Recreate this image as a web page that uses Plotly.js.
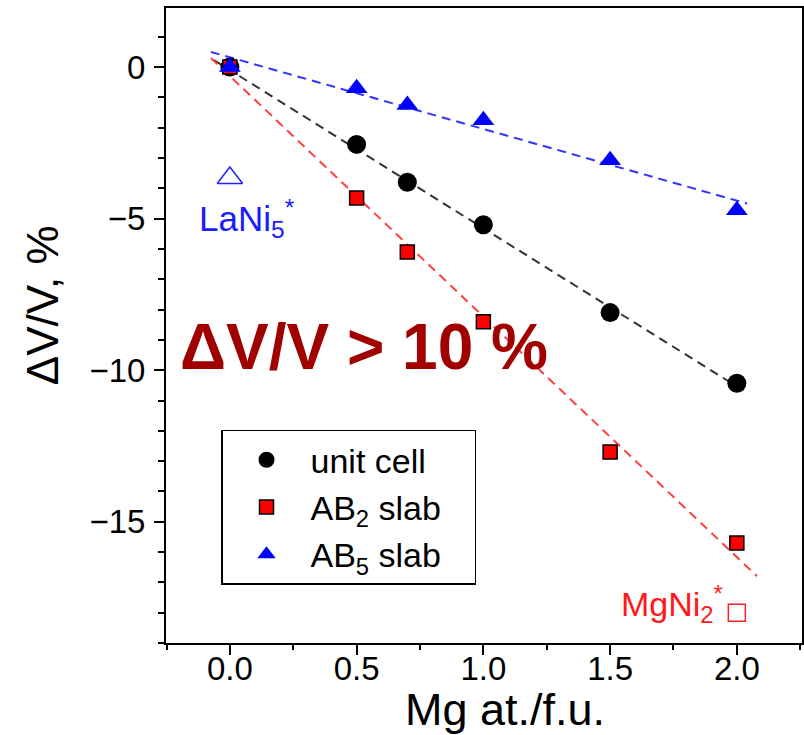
<!DOCTYPE html>
<html>
<head>
<meta charset="utf-8">
<script src="https://cdn.plot.ly/plotly-3.0.1.min.js"></script>
<style>html,body{margin:0;padding:0;background:#fff;}#chart{width:804px;height:735px;}</style>
</head>
<body>
<div id="chart"></div>
<script>
// Mg content (at./f.u.)
const mgContent = [0, 0.5, 0.7, 1.0, 1.5, 2.0];
// Relative volume change, %
const unitCell = [0, -2.55, -3.8, -5.2, -8.1, -10.43];
const ab2Slab  = [0, -4.32, -6.1, -8.4, -12.7, -15.7];
const ab5Slab  = [0, -0.7, -1.25, -1.75, -3.07, -4.72];
// Reference compounds
const laNi5X = [0];
const laNi5Y = [-3.66];
const mgNi2X = [2.0];
const mgNi2Y = [-18.0];
// Dashed linear fit guides (endpoints)
const fitUnitX = [-0.063, 2.043];
const fitUnitY = [0.23, -10.76];
const fitAB2X  = [-0.075, 2.08];
const fitAB2Y  = [0.3, -16.8];
const fitAB5X  = [-0.075, 2.04];
const fitAB5Y  = [0.5, -4.5];
// Labels
const legendNames = ['unit cell', 'AB<sub>2</sub> slab\u00a0\u00a0\u00a0', 'AB<sub>5</sub> slab'];
const xTitle = 'Mg at./f.u.';
const yTitle = '\u0394V/V, %';
const bigNote = '\u0394V/V > 10 %';

const FONT = 'Liberation Sans, Arial, sans-serif';
const XRANGE = [-0.252, 2.257];

const traces = [
  {x: fitUnitX, y: fitUnitY, mode: 'lines', line: {color: '#333333', width: 2, dash: '9px,6px'}, showlegend: false, hoverinfo: 'skip'},
  {x: fitAB2X, y: fitAB2Y, mode: 'lines', line: {color: '#ff4040', width: 2, dash: '9px,6px'}, showlegend: false, hoverinfo: 'skip'},
  {x: fitAB5X, y: fitAB5Y, mode: 'lines', line: {color: '#3333ff', width: 2, dash: '9px,6px'}, showlegend: false, hoverinfo: 'skip'},
  {x: mgContent, y: unitCell, mode: 'markers', name: legendNames[0],
   marker: {symbol: 'circle', size: 19, color: '#000000'}},
  {x: mgContent, y: ab2Slab, mode: 'markers', name: legendNames[1],
   marker: {symbol: 'square', size: 14, color: '#ff0000', line: {color: '#000000', width: 1.5}}},
  {x: mgContent, y: ab5Slab, mode: 'markers', name: legendNames[2],
   marker: {symbol: 'triangle-up', size: 19, color: '#0000ff'}},
  {x: laNi5X, y: laNi5Y, mode: 'markers', showlegend: false, xaxis: 'x2',
   marker: {symbol: 'triangle-up-open', size: 22, color: '#2222ff', line: {width: 1.5}}},
  {x: mgNi2X, y: mgNi2Y, mode: 'markers', showlegend: false, xaxis: 'x2',
   marker: {symbol: 'square-open', size: 17, color: '#ff2020', line: {width: 1.5}}}
];

const layout = {
  width: 804, height: 735,
  margin: {l: 166, r: 2, t: 8, b: 92},
  paper_bgcolor: '#ffffff', plot_bgcolor: '#ffffff',
  font: {family: FONT, color: '#000000'},
  showlegend: true,
  legend: {
    x: 0.0865, y: 0.336, xanchor: 'left', yanchor: 'top',
    bordercolor: '#000000', borderwidth: 1.5, bgcolor: '#ffffff',
    font: {family: FONT, size: 34, color: '#000000'},
    itemwidth: 78, tracegroupgap: 0
  },
  xaxis: {
    range: XRANGE, showgrid: false, zeroline: false,
    showline: true, linecolor: '#000000', linewidth: 2, mirror: true,
    ticks: 'outside', tickcolor: '#000000', ticklen: 10, tickwidth: 2,
    tick0: 0, dtick: 0.5, showticklabels: false,
    minor: {ticks: 'outside', ticklen: 5, tickwidth: 2, tickcolor: '#000000', dtick: 0.25, tick0: 0}
  },
  // label-only companion axis (same scale) to set tick-label distance
  xaxis2: {
    overlaying: 'x', matches: 'x', range: XRANGE, anchor: 'free', position: 0.021, side: 'bottom',
    showgrid: false, zeroline: false, showline: false,
    ticks: 'outside', ticklen: 10, tickcolor: 'rgba(0,0,0,0)',
    tick0: 0, dtick: 0.5, tickformat: '.1f',
    tickfont: {family: FONT, size: 33, color: '#000000'}
  },
  yaxis: {
    range: [-19, 1.95], showgrid: false, zeroline: false,
    showline: true, linecolor: '#000000', linewidth: 2, mirror: true,
    ticks: 'outside', tickcolor: '#000000', ticklen: 10, tickwidth: 2,
    tick0: 0, dtick: 5, ticklabelstandoff: 2,
    tickfont: {family: FONT, size: 33, color: '#000000'},
    minor: {ticks: 'outside', ticklen: 6, tickwidth: 2, tickcolor: '#000000', dtick: 1, tick0: 0}
  },
  annotations: [
    {xref: 'paper', yref: 'paper', x: 0.533, y: -0.104, text: xTitle, showarrow: false,
     xanchor: 'center', yanchor: 'middle', font: {family: FONT, size: 45, color: '#000000'}},
    {xref: 'paper', yref: 'paper', x: -0.195, y: 0.532, text: yTitle, showarrow: false, textangle: -90,
     xanchor: 'center', yanchor: 'middle', font: {family: FONT, size: 44, color: '#000000'}},
    {xref: 'x', yref: 'y', x: 0.53, y: -9.24, text: bigNote, showarrow: false,
     xanchor: 'center', yanchor: 'middle', font: {family: FONT, size: 64, color: '#a00000', weight: 'bold'}},
    {xref: 'x', yref: 'y', x: 0.067, y: -4.98, text: 'LaNi<sub>5</sub><sup>*</sup>', showarrow: false,
     xanchor: 'center', yanchor: 'middle', font: {family: FONT, size: 35, color: '#1a1aff'}},
    {xref: 'x', yref: 'y', x: 1.953, y: -17.7, text: 'MgNi<sub>2</sub><sup>*</sup>', showarrow: false,
     xanchor: 'right', yanchor: 'middle', font: {family: FONT, size: 34, color: '#ff1a1a'}}
  ]
};

Plotly.newPlot('chart', traces, layout, {displayModeBar: false, staticPlot: true});
</script>
</body>
</html>
